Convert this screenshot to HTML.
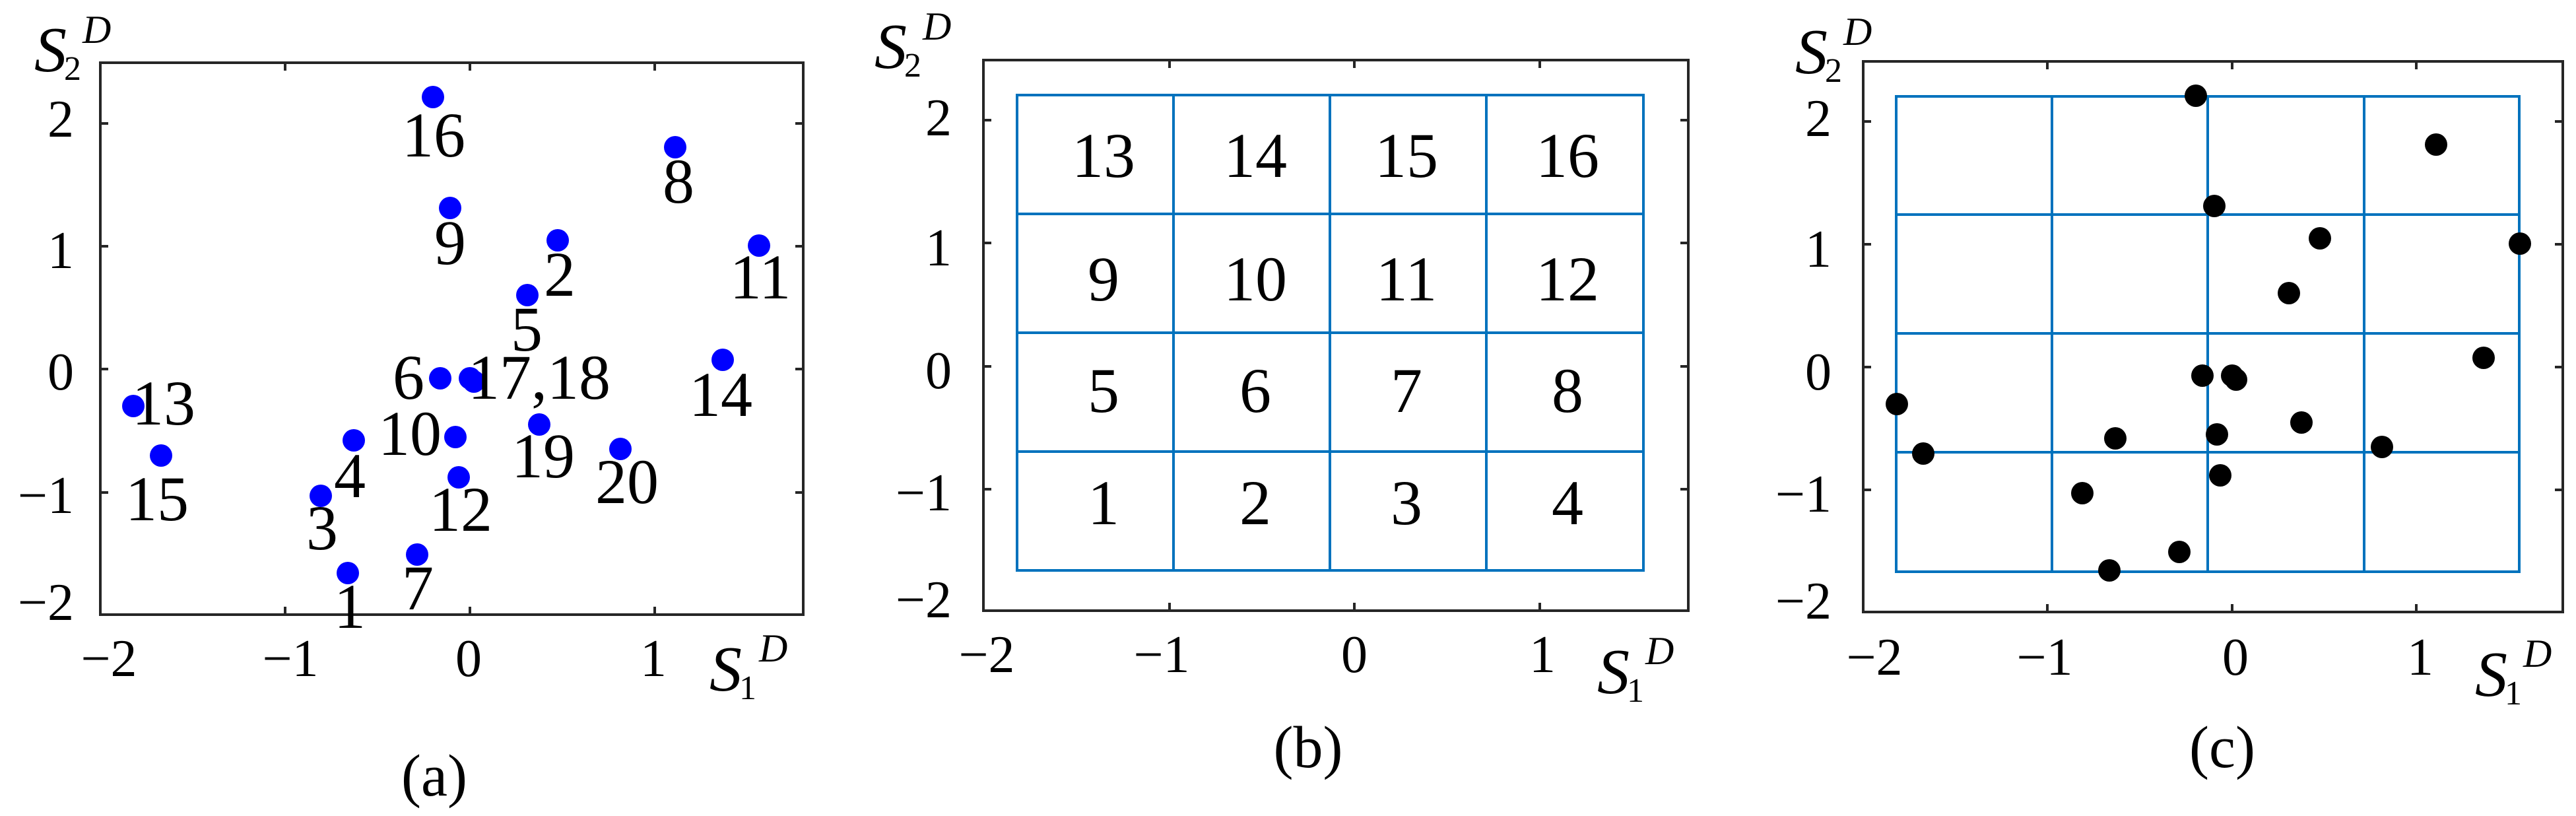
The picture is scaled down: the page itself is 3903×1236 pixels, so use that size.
<!DOCTYPE html>
<html><head><meta charset="utf-8"><style>
html,body{margin:0;padding:0;background:#fff;}
svg{display:block;}
text{font-family:"Liberation Serif","Times New Roman",serif;fill:#000;}
.t{font-size:80px;}
.p{font-size:96px;}
.c{font-size:96px;text-anchor:middle;}
.cap{font-size:90px;text-anchor:middle;}
.box{fill:none;stroke:#262626;stroke-width:4;}
.tk{stroke:#262626;stroke-width:4;}
.g{stroke:#0072BD;stroke-width:4;fill:none;}
</style></head><body>
<svg width="3903" height="1236" viewBox="0 0 3903 1236" xmlns="http://www.w3.org/2000/svg">
<!-- Panel (a) -->
<rect class="box" x="152" y="95" width="1065" height="836"/>
<g class="tk">
<line x1="432" y1="931" x2="432" y2="919"/><line x1="712" y1="931" x2="712" y2="919"/><line x1="992" y1="931" x2="992" y2="919"/>
<line x1="432" y1="95" x2="432" y2="107"/><line x1="712" y1="95" x2="712" y2="107"/><line x1="992" y1="95" x2="992" y2="107"/>
<line x1="152" y1="187" x2="164" y2="187"/><line x1="152" y1="373" x2="164" y2="373"/><line x1="152" y1="559" x2="164" y2="559"/><line x1="152" y1="746" x2="164" y2="746"/>
<line x1="1217" y1="187" x2="1205" y2="187"/><line x1="1217" y1="373" x2="1205" y2="373"/><line x1="1217" y1="559" x2="1205" y2="559"/><line x1="1217" y1="746" x2="1205" y2="746"/>
</g>
<g class="t" text-anchor="end">
<text x="112" y="207">2</text><text x="112" y="406">1</text><text x="112" y="590">0</text><text x="112" y="777">−1</text><text x="112" y="939">−2</text>
</g>
<g class="t" text-anchor="middle">
<text x="165" y="1024">−2</text><text x="440" y="1024">−1</text><text x="710" y="1024">0</text><text x="990" y="1024">1</text>
</g>
<text x="52" y="108" style="font-size:98px;font-style:italic">S</text><text x="97" y="121" style="font-size:52px">2</text><text x="125" y="65" style="font-size:60px;font-style:italic">D</text>
<text x="1075" y="1046" style="font-size:98px;font-style:italic">S</text><text x="1120" y="1059" style="font-size:52px">1</text><text x="1150" y="1002" style="font-size:60px;font-style:italic">D</text>
<g fill="#0000FF">
<circle cx="656" cy="147" r="17"/><circle cx="1023" cy="223" r="17"/><circle cx="682" cy="315" r="17"/><circle cx="845" cy="364" r="17"/>
<circle cx="1150" cy="372" r="17"/><circle cx="799" cy="447" r="17"/><circle cx="1095" cy="545" r="17"/><circle cx="667" cy="573" r="17"/>
<circle cx="712" cy="573" r="17"/><circle cx="718" cy="578" r="17"/><circle cx="202" cy="615" r="17"/><circle cx="817" cy="643" r="17"/>
<circle cx="690" cy="662" r="17"/><circle cx="536" cy="667" r="17"/><circle cx="940" cy="680" r="17"/><circle cx="244" cy="690" r="17"/>
<circle cx="695" cy="723" r="17"/><circle cx="486" cy="751" r="17"/><circle cx="632" cy="840" r="17"/><circle cx="527" cy="868" r="17"/>
</g>
<g class="p" text-anchor="middle">
<text x="657" y="237">16</text><text x="1028" y="307">8</text><text x="682" y="400">9</text><text x="848" y="448">2</text>
<text x="1152" y="452">11</text><text x="798" y="531">5</text><text x="1092" y="630">14</text><text x="619" y="604">6</text>
<text x="817" y="604">17,18</text><text x="248" y="643">13</text><text x="823" y="723">19</text><text x="621" y="689">10</text>
<text x="530" y="753">4</text><text x="950" y="762">20</text><text x="238" y="788">15</text><text x="698" y="804">12</text>
<text x="488" y="832">3</text><text x="633" y="923">7</text><text x="530" y="951">1</text>
</g>
<text class="cap" x="658" y="1205">(a)</text>

<!-- Panel (b) -->
<rect class="box" x="1490" y="91" width="1068" height="834"/>
<g class="tk">
<line x1="1772" y1="925" x2="1772" y2="913"/><line x1="2052" y1="925" x2="2052" y2="913"/><line x1="2333" y1="925" x2="2333" y2="913"/>
<line x1="1772" y1="91" x2="1772" y2="103"/><line x1="2052" y1="91" x2="2052" y2="103"/><line x1="2333" y1="91" x2="2333" y2="103"/>
<line x1="1490" y1="182" x2="1502" y2="182"/><line x1="1490" y1="368" x2="1502" y2="368"/><line x1="1490" y1="555" x2="1502" y2="555"/><line x1="1490" y1="741" x2="1502" y2="741"/>
<line x1="2558" y1="182" x2="2546" y2="182"/><line x1="2558" y1="368" x2="2546" y2="368"/><line x1="2558" y1="555" x2="2546" y2="555"/><line x1="2558" y1="741" x2="2546" y2="741"/>
</g>
<g class="g">
<rect x="1541" y="144" width="949" height="720"/>
<line x1="1778" y1="144" x2="1778" y2="864"/><line x1="2015" y1="144" x2="2015" y2="864"/><line x1="2252" y1="144" x2="2252" y2="864"/>
<line x1="1541" y1="324" x2="2490" y2="324"/><line x1="1541" y1="504" x2="2490" y2="504"/><line x1="1541" y1="684" x2="2490" y2="684"/>
</g>
<g class="t" text-anchor="end">
<text x="1442" y="205">2</text><text x="1442" y="402">1</text><text x="1442" y="588">0</text><text x="1442" y="773">−1</text><text x="1442" y="935">−2</text>
</g>
<g class="t" text-anchor="middle">
<text x="1495" y="1018">−2</text><text x="1760" y="1018">−1</text><text x="2052" y="1018">0</text><text x="2337" y="1018">1</text>
</g>
<text x="1325" y="103" style="font-size:98px;font-style:italic">S</text><text x="1370" y="116" style="font-size:52px">2</text><text x="1398" y="60" style="font-size:60px;font-style:italic">D</text>
<text x="2420" y="1050" style="font-size:98px;font-style:italic">S</text><text x="2465" y="1063" style="font-size:52px">1</text><text x="2493" y="1006" style="font-size:60px;font-style:italic">D</text>
<g class="c">
<text x="1672" y="268">13</text><text x="1902" y="268">14</text><text x="2131" y="268">15</text><text x="2375" y="268">16</text>
<text x="1672" y="455">9</text><text x="1902" y="455">10</text><text x="2131" y="455">11</text><text x="2375" y="455">12</text>
<text x="1672" y="624">5</text><text x="1902" y="624">6</text><text x="2131" y="624">7</text><text x="2375" y="624">8</text>
<text x="1672" y="794">1</text><text x="1902" y="794">2</text><text x="2131" y="794">3</text><text x="2375" y="794">4</text>
</g>
<text class="cap" x="1982" y="1162">(b)</text>

<!-- Panel (c) -->
<rect class="box" x="2823" y="93" width="1060" height="834"/>
<g class="tk">
<line x1="3102" y1="927" x2="3102" y2="915"/><line x1="3382" y1="927" x2="3382" y2="915"/><line x1="3661" y1="927" x2="3661" y2="915"/>
<line x1="3102" y1="93" x2="3102" y2="105"/><line x1="3382" y1="93" x2="3382" y2="105"/><line x1="3661" y1="93" x2="3661" y2="105"/>
<line x1="2823" y1="184" x2="2835" y2="184"/><line x1="2823" y1="370" x2="2835" y2="370"/><line x1="2823" y1="556" x2="2835" y2="556"/><line x1="2823" y1="742" x2="2835" y2="742"/>
<line x1="3883" y1="184" x2="3871" y2="184"/><line x1="3883" y1="370" x2="3871" y2="370"/><line x1="3883" y1="556" x2="3871" y2="556"/><line x1="3883" y1="742" x2="3871" y2="742"/>
</g>
<g class="g">
<rect x="2873" y="146" width="944" height="720"/>
<line x1="3109" y1="146" x2="3109" y2="866"/><line x1="3345" y1="146" x2="3345" y2="866"/><line x1="3582" y1="146" x2="3582" y2="866"/>
<line x1="2873" y1="325" x2="3817" y2="325"/><line x1="2873" y1="505" x2="3817" y2="505"/><line x1="2873" y1="685" x2="3817" y2="685"/>
</g>
<g class="t" text-anchor="end">
<text x="2775" y="206">2</text><text x="2775" y="404">1</text><text x="2775" y="590">0</text><text x="2775" y="775">−1</text><text x="2775" y="937">−2</text>
</g>
<g class="t" text-anchor="middle">
<text x="2840" y="1022">−2</text><text x="3098" y="1022">−1</text><text x="3387" y="1022">0</text><text x="3667" y="1022">1</text>
</g>
<text x="2720" y="111" style="font-size:98px;font-style:italic">S</text><text x="2765" y="124" style="font-size:52px">2</text><text x="2793" y="68" style="font-size:60px;font-style:italic">D</text>
<text x="3750" y="1054" style="font-size:98px;font-style:italic">S</text><text x="3795" y="1067" style="font-size:52px">1</text><text x="3823" y="1010" style="font-size:60px;font-style:italic">D</text>
<g fill="#000">
<circle cx="3327" cy="145" r="17"/><circle cx="3691" cy="219" r="17"/><circle cx="3355" cy="312" r="17"/><circle cx="3515" cy="361" r="17"/>
<circle cx="3818" cy="369" r="17"/><circle cx="3468" cy="444" r="17"/><circle cx="3763" cy="542" r="17"/><circle cx="3337" cy="569" r="17"/>
<circle cx="3382" cy="569" r="17"/><circle cx="3388" cy="575" r="17"/><circle cx="2874" cy="612" r="17"/><circle cx="3487" cy="640" r="17"/>
<circle cx="3359" cy="658" r="17"/><circle cx="3205" cy="664" r="17"/><circle cx="3609" cy="677" r="17"/><circle cx="2914" cy="687" r="17"/>
<circle cx="3364" cy="720" r="17"/><circle cx="3155" cy="747" r="17"/><circle cx="3302" cy="836" r="17"/><circle cx="3196" cy="864" r="17"/>
</g>
<text class="cap" x="3367" y="1162">(c)</text>
</svg>
</body></html>
